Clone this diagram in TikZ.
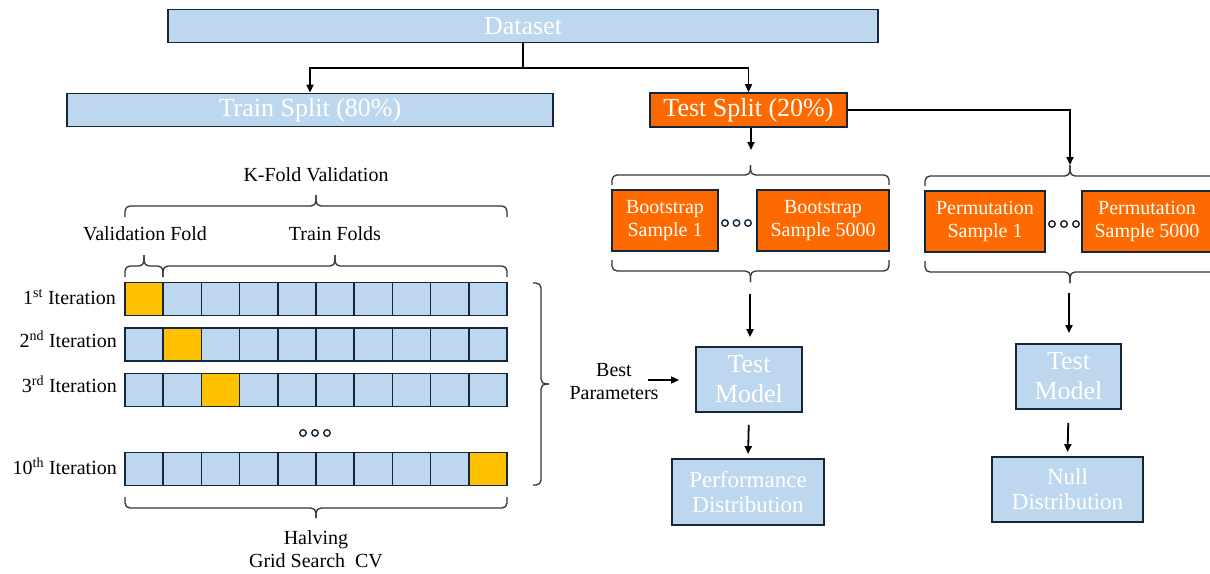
\documentclass[tikz,border=0pt]{standalone}
\usepackage{fontspec}
\setmainfont{Liberation Serif}
\usetikzlibrary{arrows.meta}
\definecolor{lblue}{HTML}{BDD7EE}
\definecolor{navy}{HTML}{13263A}
\definecolor{orng}{HTML}{FF6A00}
\definecolor{gold}{HTML}{FFC000}
% horizontal brace: x1, x2, y of ends, y of body, y of tip
\newcommand\hbr[5]{%
  \draw[br] (#1,#3) |- ({(#1+#2)/2},#4) -- ({(#1+#2)/2},#5);
  \draw[br] (#2,#3) |- ({(#1+#2)/2},#4) -- ({(#1+#2)/2},#5);}
% vertical brace: y1, y2, x of ends, x of body, x of tip
\newcommand\vbr[5]{%
  \draw[br] (#3,#1) -| (#4,{(#1+#2)/2}) -- (#5,{(#1+#2)/2});
  \draw[br] (#3,#2) -| (#4,{(#1+#2)/2}) -- (#5,{(#1+#2)/2});}
\begin{document}
\begin{tikzpicture}[x=1pt,y=-1pt,
 box/.style={draw=navy,line width=1.8pt,fill=lblue,text=white,inner sep=0pt,align=center},
 obox/.style={box,fill=orng},
 cell/.style={draw=navy,line width=1.6pt,fill=lblue,minimum width=38.2pt,minimum height=33pt,inner sep=0pt},
 vcell/.style={cell,fill=gold},
 arr/.style={line width=1.8pt,-{Triangle[length=8pt,width=7pt]}},
 plain/.style={line width=1.8pt},
 br/.style={line width=1.3pt,draw=black!80,rounded corners=5pt},
 lbl/.style={font=\fontsize{20}{23}\selectfont,text=black,inner sep=0pt,align=center},
 big/.style={font=\fontsize{26}{30}\selectfont},
 mid/.style={font=\fontsize{23}{25}\selectfont},
 small/.style={font=\fontsize{20}{23}\selectfont},
 ring/.style={circle,draw=navy,line width=1.4pt,fill=white,minimum size=6.5pt,inner sep=0pt}
]
\useasboundingbox (0,0) rectangle (1210,573);

% top level
\node[box,big,minimum width=710pt,minimum height=33pt] (dataset) at (523,26) {Dataset};
\node[box,big,minimum width=486pt,minimum height=33pt] (train) at (310,110) {Train Split (80\%)};
\node[obox,big,minimum width=197pt,minimum height=34pt] (test) at (748.5,110) {Test Split (20\%)};

\coordinate (split) at (523,68);
\draw[plain] (dataset.south) -- (split);
\draw[arr] (split) -| (train.north);
\draw[arr] (split) -| (test.north);

% bootstrap branch
\coordinate (btop) at (751,150);
\draw[arr] (test.south -| btop) -- (btop);
\hbr{612}{889}{185}{175}{165}
\node[obox,small,minimum width=106pt,minimum height=61pt] (bs1) at (665,220.5) {Bootstrap\\Sample 1};
\node[obox,small,minimum width=132pt,minimum height=61pt] (bs2) at (823,220.5) {Bootstrap\\Sample 5000};
\node[ring] (bd1) at (725,223) {};
\node[ring] (bd2) at (736.5,223) {};
\node[ring] (bd3) at (748,223) {};
\hbr{612}{889}{260}{271}{282}

\node[box,big,minimum width=106pt,minimum height=65pt] (tm1) at (749,379.5) {Test\\Model};
\node[box,mid,minimum width=152pt,minimum height=66pt] (perf) at (748,492) {Performance\\Distribution};
\coordinate (bbot) at (750,294);
\draw[arr,shorten >=9pt] (bbot) -- (bbot |- tm1.north);
\draw[arr,shorten <=12pt,shorten >=4pt] (tm1.south) -- (perf.north);

\node[lbl] (bp) at (614,382) {Best\\Parameters};
\coordinate (bpa) at (648,380);
\draw[arr,shorten >=16pt] (bpa) -- (bpa -| tm1.west);

% permutation branch
\coordinate (ptop) at (1070,165);
\draw[arr] (test.east) -| (ptop);
\hbr{925}{1215}{186}{176}{165}
\node[obox,small,minimum width=120pt,minimum height=61pt] (ps1) at (985,221.5) {Permutation\\Sample 1};
\node[obox,small,minimum width=130pt,minimum height=61pt] (ps2) at (1147,221.5) {Permutation\\Sample 5000};
\node[ring] (pd1) at (1052,224) {};
\node[ring] (pd2) at (1064,224) {};
\node[ring] (pd3) at (1076,224) {};
\hbr{925}{1215}{261}{272}{283}

\node[box,big,minimum width=105pt,minimum height=65pt] (tm2) at (1068.5,376.5) {Test\\Model};
\node[box,mid,minimum width=151pt,minimum height=65pt] (null) at (1067.5,489.5) {Null\\Distribution};
\coordinate (pbot) at (1069,293);
\draw[arr,shorten >=10pt] (pbot) -- (pbot |- tm2.north);
\draw[arr,shorten <=13pt,shorten >=4pt] (tm2.south) -- (null.north);

% K-fold grid
\foreach \r/\y in {1/299,2/344.5,3/390,10/469}{
  \foreach \c in {1,...,10}{
    \ifnum\c=\r \def\st{vcell}\else\def\st{cell}\fi
    \node[\st] (c\r-\c) at ({125+38.2*(\c-0.5)},\y) {};
  }
}
\node[lbl,anchor=east] (it1) at (116,297) {1\textsuperscript{st} Iteration};
\node[lbl,anchor=east] (it2) at (117,339) {2\textsuperscript{nd} Iteration};
\node[lbl,anchor=east] (it3) at (117,384) {3\textsuperscript{rd} Iteration};
\node[lbl,anchor=east] (it10) at (117,466) {10\textsuperscript{th} Iteration};

\node[ring] (kd1) at (303,433) {};
\node[ring] (kd2) at (315,433) {};
\node[ring] (kd3) at (327,433) {};

\node[lbl] (kfold) at (316,175) {K-Fold Validation};
\hbr{125}{507}{217}{206}{195}
\node[lbl] (vfold) at (145,234) {Validation Fold};
\node[lbl] (tfolds) at (335,234) {Train Folds};
\hbr{125}{163}{277}{266}{255}
\hbr{163}{507}{277}{266}{255}
\hbr{125}{507}{497}{508}{518}
\node[lbl] (halving) at (316,549) {Halving\\Grid Search\ \ CV};
\vbr{283}{485}{533}{541}{549}
\end{tikzpicture}
\end{document}
